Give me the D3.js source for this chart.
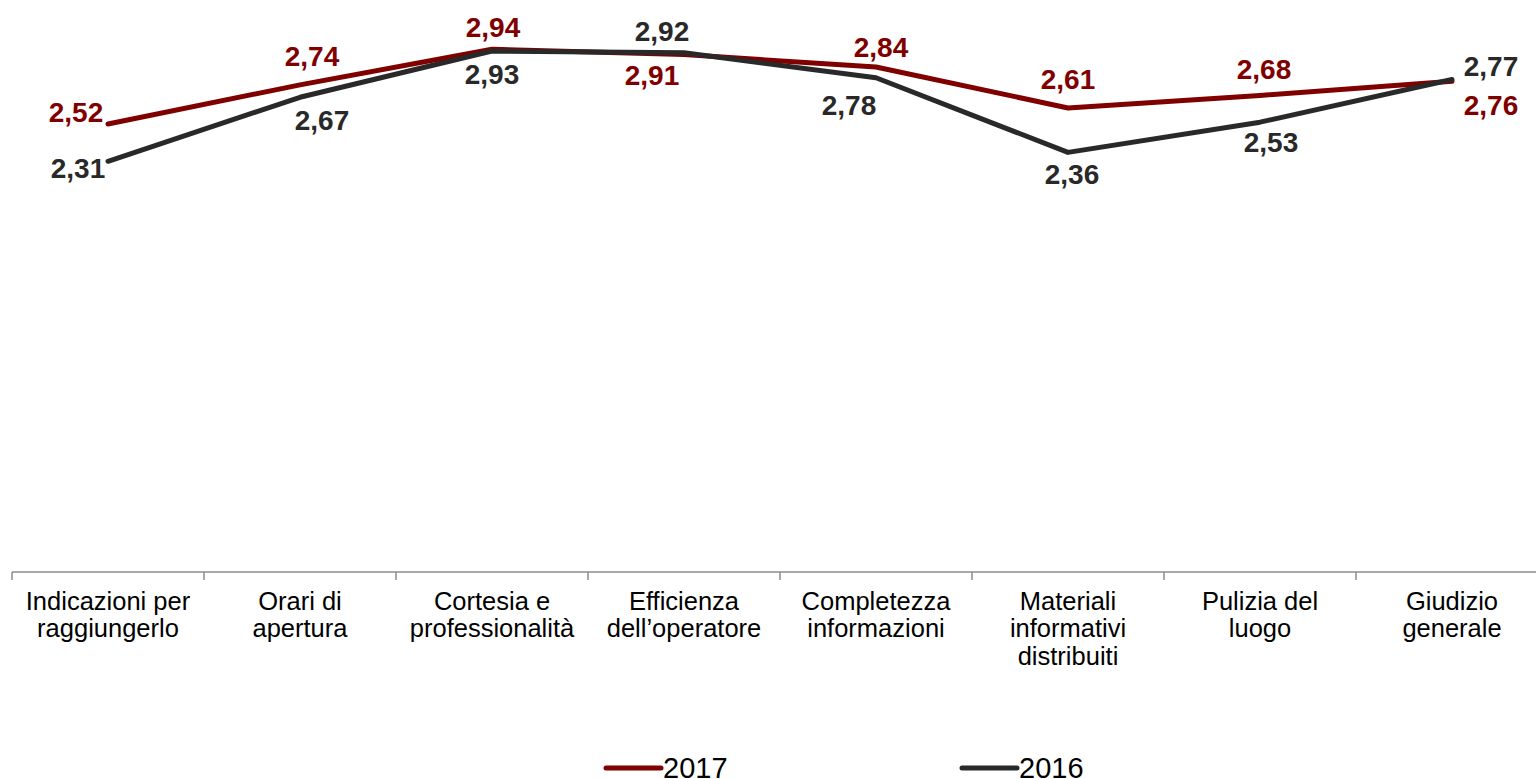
<!DOCTYPE html>
<html>
<head>
<meta charset="utf-8">
<script src="https://cdn.jsdelivr.net/npm/d3@7"></script>
<style>
  html, body { margin: 0; padding: 0; background: #ffffff; }
  svg { display: block; font-family: "Liberation Sans", Arial, sans-serif; }
</style>
</head>
<body>
<svg id="chart" width="1536" height="779"></svg>
<script>
// Survey items (one per category on the x axis), split into display lines
const categories = [
  "Indicazioni per raggiungerlo",
  "Orari di apertura",
  "Cortesia e professionalità",
  "Efficienza dell’operatore",
  "Completezza informazioni",
  "Materiali informativi distribuiti",
  "Pulizia del luogo",
  "Giudizio generale"
];
const categoryLines = [
  ["Indicazioni per", "raggiungerlo"],
  ["Orari di", "apertura"],
  ["Cortesia e", "professionalità"],
  ["Efficienza", "dell’operatore"],
  ["Completezza", "informazioni"],
  ["Materiali", "informativi", "distribuiti"],
  ["Pulizia del", "luogo"],
  ["Giudizio", "generale"]
];

// Average scores per year
const values2017 = [2.52, 2.74, 2.94, 2.91, 2.84, 2.61, 2.68, 2.76];
const values2016 = [2.31, 2.67, 2.93, 2.92, 2.78, 2.36, 2.53, 2.77];

const seriesNames = ["2017", "2016"];
const yDomain = [0, 3];

// Value label placement (centre offset from the point, in px)
const labelOffsets2017 = [[-32, -12], [12, -29], [1, -22], [-32, 20], [5, -20], [0, -29], [4, -27], [39, 24]];
const labelOffsets2016 = [[-30, 7], [22, 23], [0, 23], [-22, -22], [-27, 27], [4, 22], [11, 20], [39, -14]];

const colors = { "2017": "#800000", "2016": "#292929" };

const svg = d3.select("#chart");

const x = d3.scaleBand().domain(categories).range([12, 1548]).paddingInner(0).paddingOuter(0);
const y = d3.scaleLinear().domain(yDomain).range([572, 38.6]);
const cx = d => x(d) + x.bandwidth() / 2;

// Category axis: baseline, ticks at band boundaries, wrapped labels
const axisY = y(0);
const axisG = svg.append("g").attr("transform", `translate(0,${axisY})`);
axisG.call(d3.axisBottom(x).tickSize(0).tickFormat(""));
axisG.select(".domain").attr("stroke", "#8c8c8c").attr("stroke-width", 1.5).attr("d", `M12,0H1548`);
axisG.selectAll(".tick").remove();

const bounds = categories.map(c => x(c)).concat([x(categories[categories.length - 1]) + x.bandwidth()]);
axisG.selectAll("line.bound")
  .data(bounds)
  .join("line")
  .attr("class", "bound")
  .attr("x1", d => d).attr("x2", d => d)
  .attr("y1", 0).attr("y2", 8)
  .attr("stroke", "#8c8c8c").attr("stroke-width", 1.5);

const labelG = svg.append("g");
categories.forEach((c, i) => {
  const t = labelG.append("text")
    .attr("x", cx(c))
    .attr("y", 609.5)
    .attr("text-anchor", "middle")
    .attr("font-size", 25.5)
    .attr("fill", "#000");
  categoryLines[i].forEach((line, j) => {
    t.append("tspan").attr("x", cx(c)).attr("dy", j === 0 ? 0 : 27.5).text(line);
  });
});

// Series lines
const line = d3.line()
  .x((d, i) => cx(categories[i]))
  .y(d => y(d));

const series = [
  { name: "2017", values: values2017, offsets: labelOffsets2017 },
  { name: "2016", values: values2016, offsets: labelOffsets2016 }
];

series.forEach(s => {
  svg.append("path")
    .datum(s.values)
    .attr("fill", "none")
    .attr("stroke", colors[s.name])
    .attr("stroke-width", 5)
    .attr("stroke-linejoin", "round")
    .attr("stroke-linecap", "round")
    .attr("d", line);
});

// Value labels (Italian decimal comma)
const fmt = v => v.toFixed(2).replace(".", ",");
const labelSize = 28;
series.forEach(s => {
  svg.append("g").selectAll("text")
    .data(s.values)
    .join("text")
    .attr("x", (d, i) => cx(categories[i]) + s.offsets[i][0])
    .attr("y", (d, i) => y(d) + s.offsets[i][1] + labelSize * 0.358)
    .attr("text-anchor", "middle")
    .attr("font-size", labelSize)
    .attr("font-weight", "bold")
    .attr("fill", colors[s.name])
    .text(d => fmt(d));
});

// Legend
const legendItems = [
  { name: "2017", x0: 606 },
  { name: "2016", x0: 962 }
];
const legendG = svg.append("g");
legendItems.forEach(it => {
  legendG.append("line")
    .attr("x1", it.x0).attr("x2", it.x0 + 55)
    .attr("y1", 768).attr("y2", 768)
    .attr("stroke", colors[it.name])
    .attr("stroke-width", 5)
    .attr("stroke-linecap", "round");
  legendG.append("text")
    .attr("x", it.x0 + 57)
    .attr("y", 777.5)
    .attr("font-size", 29)
    .attr("fill", "#000")
    .text(it.name);
});
</script>
</body>
</html>
